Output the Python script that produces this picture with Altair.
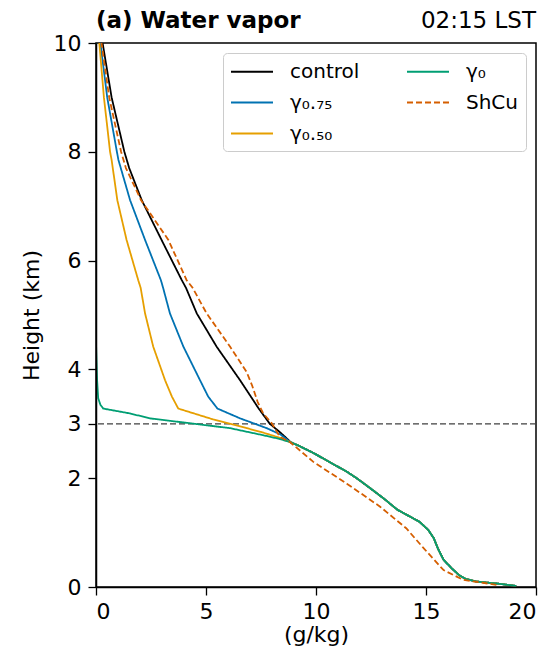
import altair as alt
import pandas as pd

FONT = "DejaVu Sans"

# heights (km) and values (g/kg)
lower_h = [2.66, 2.6, 2.46, 2.3, 2.12, 2.0, 1.82, 1.62, 1.42, 1.2, 1.05, 0.9, 0.7, 0.5, 0.35, 0.22, 0.15, 0.1, 0.06, 0.02]
lower_x = [8.85, 9.2, 9.9, 10.6, 11.4, 11.85, 12.45, 13.1, 13.7, 14.7, 15.1, 15.35, 15.55, 15.8, 16.15, 16.5, 16.8, 17.3, 18.3, 19.1]

control_h = [10, 9, 8, 7.7, 7.11, 6.38, 5.64, 5.5, 5.03, 4.42, 3.8, 3.29, 3.0, 2.85, 2.72]
control_x = [0.3, 0.71, 1.29, 1.51, 2.08, 2.98, 3.9, 4.09, 4.58, 5.48, 6.55, 7.38, 7.9, 8.35, 8.7]

g075_h = [10, 9, 8, 7.85, 7.11, 6.38, 5.64, 5.5, 5.03, 4.42, 3.8, 3.5, 3.28, 3.1, 2.92, 2.8]
g075_x = [0.2, 0.51, 0.95, 1.02, 1.55, 2.23, 2.95, 3.05, 3.36, 3.97, 4.73, 5.1, 5.52, 6.55, 7.76, 8.4]

g050_h = [10, 9, 8, 7.85, 7.11, 6.38, 5.64, 5.5, 5.03, 4.42, 3.8, 3.5, 3.28, 3.08, 2.92, 2.85, 2.75]
g050_x = [0.15, 0.36, 0.64, 0.71, 0.97, 1.39, 1.92, 2.03, 2.23, 2.6, 3.14, 3.45, 3.74, 5.33, 6.85, 7.5, 8.3]

g0_h = [10, 4.5, 3.8, 3.47, 3.35, 3.28, 3.19, 3.1, 3.01, 2.92, 2.79, 2.72]
g0_x = [0.0, 0.0, 0.05, 0.1, 0.2, 0.33, 1.55, 2.45, 4.27, 6.09, 7.6, 8.36]

shcu_h = [10, 9, 8, 7.7, 7.11, 6.38, 5.64, 5.5, 5.03, 4.42, 4.2, 3.95, 3.7, 3.4, 3.19, 3.01, 2.76, 2.67, 2.3, 1.9, 1.48, 1.08, 0.71, 0.31, 0.13, 0.04]
shcu_x = [0.25, 0.6, 1.14, 1.36, 2.05, 3.29, 4.12, 4.39, 5.03, 6.09, 6.45, 6.85, 7.1, 7.35, 7.6, 7.99, 8.36, 8.8, 9.88, 11.4, 12.9, 14.1, 14.9, 15.8, 16.7, 18.2]

names = ["control", "γ₀.₇₅", "γ₀.₅₀", "γ₀", "ShCu"]
colors = ["#000000", "#0072B2", "#E69F00", "#009E73", "#D55E00"]
dashes = [[1, 0], [1, 0], [1, 0], [1, 0], [6, 3]]

rows = []
series = [
    ("control", control_h + lower_h, control_x + lower_x),
    ("γ₀.₇₅", g075_h + lower_h, g075_x + lower_x),
    ("γ₀.₅₀", g050_h + lower_h, g050_x + lower_x),
    ("γ₀", g0_h + lower_h, g0_x + lower_x),
    ("ShCu", shcu_h, shcu_x),
]
for name, hs, xs in series:
    for h, x in zip(hs, xs):
        rows.append({"series": name, "h": h, "q": x})
df = pd.DataFrame(rows)

W, H = 440, 544
TICK_FS = 22
TITLE_FS = 22
LEG_FS = 20

lines = alt.Chart(df).mark_line(strokeWidth=1.8, clip=True).encode(
    x=alt.X("q:Q", scale=alt.Scale(domain=[0, 20], nice=False),
            axis=alt.Axis(values=[0, 5, 10, 15, 20], title="(g/kg)", zindex=1)),
    y=alt.Y("h:Q", scale=alt.Scale(domain=[0, 10], nice=False),
            axis=alt.Axis(values=[0, 2, 3, 4, 6, 8, 10], title="Height (km)", zindex=1)),
    color=alt.Color("series:N",
                    scale=alt.Scale(domain=names, range=colors),
                    legend=alt.Legend(title=None, orient="top-right", offset=10, columns=2,
                                      symbolType="M-1,0H3", symbolSize=441, symbolStrokeWidth=1.8,
                                      labelFontSize=LEG_FS, labelFont=FONT, labelColor="black",
                                      padding=7, rowPadding=9, columnPadding=43, labelOffset=37,
                                      strokeColor="#cccccc", cornerRadius=4, fillColor="white")),
    strokeDash=alt.StrokeDash("series:N",
                              scale=alt.Scale(domain=names, range=dashes),
                              legend=alt.Legend(title=None)),
    order=alt.Order("h:Q"),
    detail="series:N",
)

rule = alt.Chart(pd.DataFrame({"y": [3]})).mark_rule(
    strokeDash=[6, 3], color="#404040", strokeWidth=1.2
).encode(y="y:Q")

left_title = alt.Chart(pd.DataFrame({"t": ["(a) Water vapor"]})).mark_text(
    align="left", baseline="alphabetic", fontSize=23, font=FONT, fontWeight="bold", color="black"
).encode(text="t:N", x=alt.value(0), y=alt.value(-15))

right_title = alt.Chart(pd.DataFrame({"t": ["02:15 LST"]})).mark_text(
    align="right", baseline="alphabetic", fontSize=23, font=FONT, color="black"
).encode(text="t:N", x=alt.value(W), y=alt.value(-15))

chart = alt.layer(rule, lines, left_title, right_title).properties(
    width=W, height=H,
    autosize=alt.AutoSizeParams(type="none"),
    padding={"left": 88, "top": 35, "right": 9, "bottom": 62},
).configure_view(stroke="black", strokeWidth=1.5).configure_axis(
    grid=False, domainColor="black", domainWidth=1.5, tickColor="black", tickWidth=1.3,
    tickSize=8, labelFontSize=TICK_FS, labelFont=FONT, labelColor="black", labelPadding=7,
    titleFontSize=TITLE_FS, titleFont=FONT, titleFontWeight="normal", titleColor="black",
).configure_axisY(titlePadding=10).configure_axisX(titlePadding=2, labelPadding=6)

chart.save("out.html", embed_options={"renderer": "svg", "actions": False})
